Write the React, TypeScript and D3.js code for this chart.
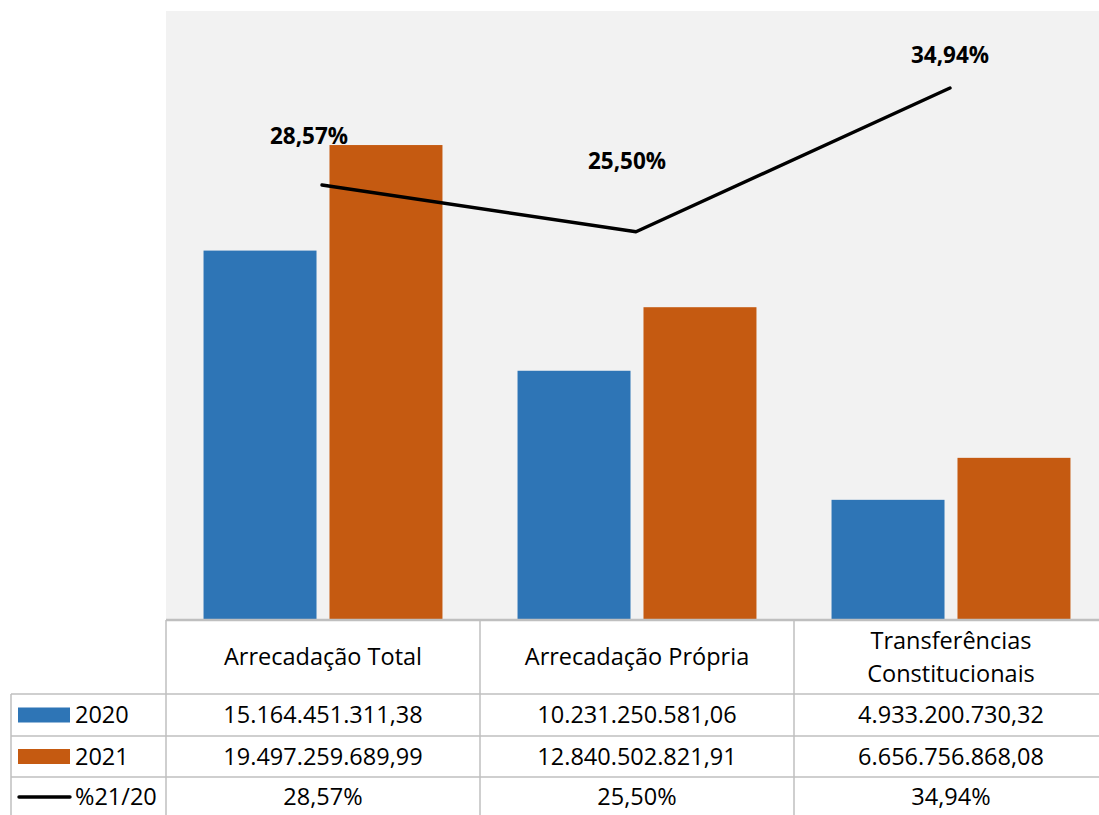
import * as d3 from "d3";
import React, { useEffect, useRef } from "react";

const categories = ["Arrecadação Total", "Arrecadação Própria", "Transferências Constitucionais"];
const headerLines = [["Arrecadação Total"], ["Arrecadação Própria"], ["Transferências", "Constitucionais"]];
const series = ["2020", "2021"];
const values2020 = [15164451311.38, 10231250581.06, 4933200730.32];
const values2021 = [19497259689.99, 12840502821.91, 6656756868.08];
const pct = [28.57, 25.5, 34.94];
const labels2020 = ["15.164.451.311,38", "10.231.250.581,06", "4.933.200.730,32"];
const labels2021 = ["19.497.259.689,99", "12.840.502.821,91", "6.656.756.868,08"];
const pctLabels = ["28,57%", "25,50%", "34,94%"];

const COLORS: Record<string, string> = { "2020": "#2E75B6", "2021": "#C55A11" };
const FONT = "'Open Sans', 'Noto Sans', sans-serif";

// manual offsets of the line labels (dx, dy from the point)
const labelNudge = [
  [-13, -41],
  [-9, -63],
  [0, -25],
];

const App: React.FC = () => {
  const svgRef = useRef<SVGSVGElement>(null);

  useEffect(() => {
    if (!svgRef.current) return;
    const svg = d3.select(svgRef.current);
    svg.selectAll("*").remove();

    const W = 1099;
    const H = 815;
    const plot = { left: 166, top: 11, bottom: 620, catW: 314 };
    const right = plot.left + plot.catW * categories.length;
    const rows = [620, 694, 736, 777, 819];
    const legendLeft = 11;
    const grid = "#BFBFBF";

    svg.attr("width", W).attr("height", H);

    const x = d3.scaleBand().domain(categories).range([plot.left, right]).padding(0);
    const xs = d3
      .scaleBand()
      .domain(series)
      .range([0, plot.catW])
      .paddingInner(0.103)
      .paddingOuter(0.298);
    const y = d3.scaleLinear().domain([0, 25e9]).range([plot.bottom, plot.top]);
    const y2 = d3.scaleLinear().domain([0, 40]).range([plot.bottom, plot.top]);

    // plot background
    svg
      .append("rect")
      .attr("x", plot.left)
      .attr("y", plot.top)
      .attr("width", right - plot.left)
      .attr("height", plot.bottom - plot.top)
      .attr("fill", "#F2F2F2");

    // bars
    const data = categories.map((c, i) => ({ c, v: [values2020[i], values2021[i]] }));
    const groups = svg
      .append("g")
      .selectAll("g")
      .data(data)
      .join("g")
      .attr("transform", (d) => `translate(${x(d.c)},0)`);
    groups
      .selectAll("rect")
      .data((d) => series.map((s, j) => ({ s, v: d.v[j] })))
      .join("rect")
      .attr("x", (d) => xs(d.s)!)
      .attr("width", xs.bandwidth())
      .attr("y", (d) => y(d.v))
      .attr("height", (d) => plot.bottom - y(d.v))
      .attr("fill", (d) => COLORS[d.s]);

    // line
    const cx = (i: number) => x(categories[i])! + x.bandwidth() / 2 - 1;
    const line = d3
      .line<number>()
      .x((_, i) => cx(i))
      .y((d) => y2(d));
    svg
      .append("path")
      .datum(pct)
      .attr("d", line)
      .attr("fill", "none")
      .attr("stroke", "#000")
      .attr("stroke-width", 3.4)
      .attr("stroke-linecap", "round")
      .attr("stroke-linejoin", "round");

    svg
      .append("g")
      .selectAll("text")
      .data(pct)
      .join("text")
      .attr("x", (_, i) => cx(i) + labelNudge[i][0])
      .attr("y", (d, i) => y2(d) + labelNudge[i][1])
      .attr("text-anchor", "middle")
      .attr("font-family", FONT)
      .attr("font-weight", 700)
      .attr("font-size", 22.5)
      .attr("fill", "#000")
      .text((_, i) => pctLabels[i]);

    // data table
    const t = svg.append("g").attr("stroke", grid).attr("stroke-width", 1.5);
    t.append("line").attr("x1", plot.left).attr("x2", W).attr("y1", rows[0]).attr("y2", rows[0]).attr("stroke-width", 2.5);
    rows.slice(1, 4).forEach((ry) => {
      t.append("line").attr("x1", legendLeft).attr("x2", W).attr("y1", ry).attr("y2", ry);
    });
    t.append("line").attr("x1", legendLeft).attr("x2", legendLeft).attr("y1", rows[1]).attr("y2", H);
    categories.forEach((c) => {
      t.append("line").attr("x1", x(c)!).attr("x2", x(c)!).attr("y1", rows[0]).attr("y2", H);
    });

    const txt = svg.append("g").attr("font-family", FONT).attr("font-size", 23.5).attr("fill", "#000");
    const colC = (i: number) => x(categories[i])! + x.bandwidth() / 2;

    headerLines.forEach((lines, i) => {
      const mid = (rows[0] + rows[1]) / 2;
      lines.forEach((l, k) => {
        txt
          .append("text")
          .attr("x", colC(i))
          .attr("y", mid + (k - (lines.length - 1) / 2) * 33)
          .attr("dy", "0.35em")
          .attr("text-anchor", "middle")
          .text(l);
      });
    });

    const rowData = [labels2020, labels2021, pctLabels];
    rowData.forEach((r, ri) => {
      const mid = (rows[ri + 1] + Math.min(rows[ri + 2], H)) / 2 + (ri === 2 ? 1 : 0);
      r.forEach((s, i) => {
        txt
          .append("text")
          .attr("x", colC(i))
          .attr("y", mid)
          .attr("dy", "0.35em")
          .attr("text-anchor", "middle")
          .text(s);
      });
    });

    // legend keys
    const keys = ["2020", "2021", "%21/20"];
    keys.forEach((k, ri) => {
      const mid = (rows[ri + 1] + Math.min(rows[ri + 2], H)) / 2 + (ri === 2 ? 1 : 0);
      if (ri < 2) {
        svg
          .append("rect")
          .attr("x", 18)
          .attr("y", mid - 7.5)
          .attr("width", 52)
          .attr("height", 15)
          .attr("fill", COLORS[k]);
      } else {
        svg
          .append("line")
          .attr("x1", 19)
          .attr("x2", 70)
          .attr("y1", mid)
          .attr("y2", mid)
          .attr("stroke", "#000")
          .attr("stroke-width", 3.4)
          .attr("stroke-linecap", "round");
      }
      txt
        .append("text")
        .attr("x", 75)
        .attr("y", mid)
        .attr("dy", "0.35em")
        .text(k);
    });
  }, []);

  return (
    <div style={{ position: "absolute", left: 0, top: 0, background: "#fff" }}>
      <svg ref={svgRef} style={{ display: "block" }} />
    </div>
  );
};

export default App;
